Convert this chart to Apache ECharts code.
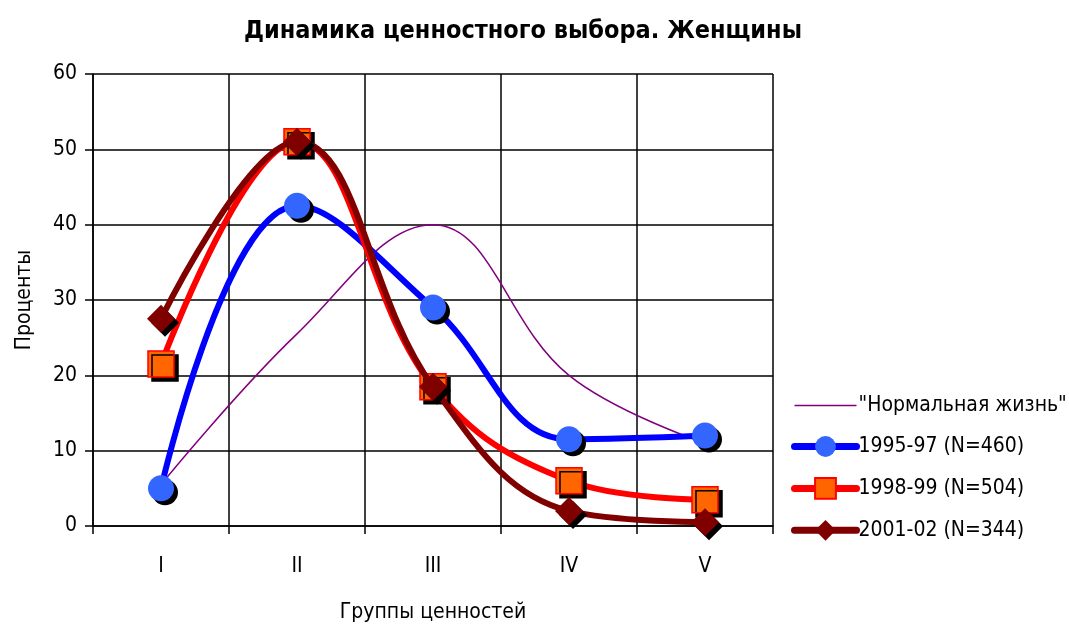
<!DOCTYPE html>
<html><head><meta charset="utf-8">
<script src="https://cdn.jsdelivr.net/npm/echarts@6/dist/echarts.min.js"></script>
<style>html,body{margin:0;padding:0;background:#fff}#c{width:1069px;height:625px}</style>
</head><body><div id="c"></div>
<script>
const categories = ['I', 'II', 'III', 'IV', 'V'];
const seriesNames = ['"Нормальная жизнь"', '1995-97 (N=460)', '1998-99 (N=504)', '2001-02 (N=344)'];
const normal = [5.5, 25.5, 40, 20, 11];
const s1995 = [5, 42.5, 29, 11.5, 12];
const s1998 = [21.5, 51, 18.5, 6, 3.5];
const s2001 = [27.5, 51, 18.5, 2, 0.5];
const yTicks = [0, 10, 20, 30, 40, 50, 60];

const FONT = '"DejaVu Sans Condensed", "Liberation Sans Narrow", "Arial Narrow", sans-serif';
const chart = echarts.init(document.getElementById('c'));
const shadow = {shadowColor: '#000', shadowBlur: 0, shadowOffsetX: 4, shadowOffsetY: 4};
chart.setOption({
  animation: false,
  backgroundColor: '#fff',
  textStyle: {fontFamily: FONT},
  title: {
    text: 'Динамика ценностного выбора. Женщины',
    left: 518, top: 14, textAlign: 'center',
    textStyle: {fontFamily: FONT, fontWeight: 'bold', fontSize: 25, color: '#000'}
  },
  grid: {left: 93, right: 296, top: 74, bottom: 99, containLabel: false, outerBoundsMode: 'none'},
  legend: {
    orient: 'vertical', left: 786, top: 390,
    itemWidth: 62, itemHeight: 26, itemGap: 20,
    textStyle: {fontFamily: FONT, fontSize: 21, color: '#000', padding: [0,0,0,-3]},
    data: [
      {name: seriesNames[0], icon: 'path://M0,0 L60,0 L60,1.5 L0,1.5 Z', itemStyle: {color: '#800080'}},
      {name: seriesNames[1], lineStyle: {width: 7}},
      {name: seriesNames[2], lineStyle: {width: 7}},
      {name: seriesNames[3], lineStyle: {width: 7}}
    ]
  },
  xAxis: {
    type: 'category', data: categories, boundaryGap: true,
    name: 'Группы ценностей', nameLocation: 'middle', nameGap: 76,
    nameTextStyle: {fontFamily: FONT, fontSize: 21, color: '#000'},
    axisLine: {lineStyle: {color: '#000', width: 1.5}},
    axisTick: {show: true, length: 8, lineStyle: {color: '#000', width: 1.5}},
    axisLabel: {fontFamily: FONT, fontSize: 21, color: '#000', margin: 30},
    splitLine: {show: true, lineStyle: {color: '#000', width: 1.5}}
  },
  yAxis: {
    type: 'value', min: 0, max: 60, interval: 10,
    name: 'Проценты', nameLocation: 'middle', nameGap: 58,
    nameTextStyle: {fontFamily: FONT, fontSize: 21, color: '#000'},
    axisLine: {show: true, lineStyle: {color: '#000', width: 1.5}},
    axisTick: {show: true, length: 8, lineStyle: {color: '#000', width: 1.5}},
    axisLabel: {fontFamily: FONT, fontSize: 21, color: '#000', margin: 16,
      formatter: v => yTicks.includes(v) ? String(v) : ''},
    splitLine: {show: true, lineStyle: {color: '#000', width: 1.5}}
  },
  series: [
    {name: seriesNames[0], type: 'line', data: normal, smooth: 0.4, symbol: 'none', showSymbol: false,
     lineStyle: {color: '#800080', width: 1.5}, itemStyle: {color: '#800080'}, z: 2},
    {name: seriesNames[1], type: 'line', data: s1995, smooth: 0.4, symbol: 'circle', symbolSize: 26,
     lineStyle: {color: '#0000ff', width: 6, cap: 'round'},
     itemStyle: Object.assign({color: '#3366ff', borderWidth: 0}, shadow), z: 3},
    {name: seriesNames[2], type: 'line', data: s1998, smooth: 0.4, symbol: 'rect', symbolSize: 26,
     lineStyle: {color: '#ff0000', width: 6, cap: 'round'},
     itemStyle: Object.assign({color: '#ff6600', borderColor: '#ff0000', borderWidth: 1.5}, shadow), z: 4},
    {name: seriesNames[3], type: 'line', data: s2001, smooth: 0.4, symbol: 'diamond', symbolSize: 28,
     lineStyle: {color: '#800000', width: 6, cap: 'round'},
     itemStyle: Object.assign({color: '#800000', borderWidth: 0}, shadow), z: 5}
  ]
});
</script></body></html>
